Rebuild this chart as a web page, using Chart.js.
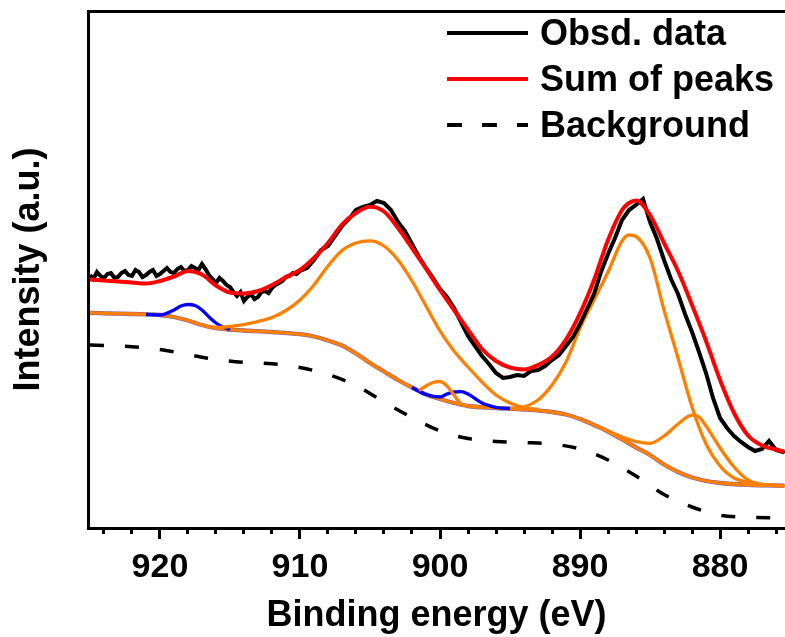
<!DOCTYPE html>
<html>
<head>
<meta charset="utf-8">
<title>XPS fit</title>
<script src="https://cdn.jsdelivr.net/npm/chart.js@4.4.0/dist/chart.umd.min.js"></script>
<style>
  html, body { margin: 0; padding: 0; background: #fff; }
  #wrap { position: relative; width: 785px; height: 637px; }
</style>
</head>
<body>
<div id="wrap"><canvas id="xps"></canvas></div>
<script>
// binding energy (eV) / intensity (a.u.)
const obsEnergy = [
  925, 924.75, 924.5, 924.25, 924, 923.75, 923.5, 923.25,
  923, 922.75, 922.5, 922.25, 922, 921.75, 921.5, 921.25,
  921, 920.75, 920.5, 920.25, 920, 919.75, 919.5, 919.25,
  919, 918.75, 918.5, 918.25, 918, 917.75, 917.5, 917.25,
  917, 916.75, 916.5, 916.25, 916, 915.75, 915.5, 915.25,
  915, 914.75, 914.5, 914.25, 914, 913.75, 913.5, 913.25,
  913, 912.75, 912.5, 912.25, 912, 911.75, 911.5, 911.25,
  911, 910.75, 910.5, 910.25,
  910, 909.5, 909, 908.5, 908, 907.5, 907, 906.5, 906, 905.5,
  905, 904.5, 904, 903.5, 903, 902.5, 902, 901.5, 901, 900.5,
  900, 899.5, 899, 898.5, 898, 897.5, 897, 896.5, 896, 895.5,
  895, 894.5, 894, 893.5, 893, 892.5, 892, 891.5, 891, 890.5,
  890, 889.5, 889, 888.5, 888, 887.5, 887, 886.5, 886, 885.5,
  885, 884.5, 884, 883.5, 883, 882.5, 882, 881.5, 881, 880.5,
  880, 879.5, 879, 878.5, 878, 877.5, 877, 876.5, 876, 875.5,
  875.4
];
const obsIntensity = [
  253, 249, 256, 252, 250, 254, 255, 250,
  251, 255, 257, 253, 252, 258, 256, 251,
  253, 256, 258, 252, 254, 257, 260, 256,
  255, 259, 261, 257, 258, 262, 260, 258,
  264, 259, 253, 249, 245, 250, 247, 243,
  241, 236, 232, 236, 227, 231, 234, 229,
  231, 236, 237, 235, 240, 243, 245, 247,
  251, 252, 255, 254,
  257, 260, 268, 278, 282, 292, 302, 309, 318, 321,
  323, 327, 325, 318, 306, 297, 284, 271, 260, 250,
  239, 231, 220, 206, 192, 182, 172, 164, 155, 150,
  151, 153, 152, 157, 158, 162, 168, 173, 182, 191,
  204, 219, 234, 256, 274, 290, 308, 318, 323, 329,
  306, 289, 268, 249, 234, 214, 196, 176, 155, 130,
  110, 100, 92, 86, 81, 77, 79, 87, 78, 76,
  77
];

const sumEnergy = [925, 924, 923, 922, 921, 920, 919, 918, 917, 916, 915, 914, 913, 912, 911, 910, 909, 908, 907, 906,
  905, 904, 903, 902, 901, 900, 899, 898, 897, 896, 895, 894, 893, 892, 891, 890, 889, 888, 887, 886.5,
  886, 885, 884, 883, 882, 881, 880, 879, 878, 877, 876, 875.4];
const sumIntensity = [248.5, 247.5, 246.5, 245.5, 244.5, 247, 251.5, 257, 253.5, 242.5, 235.5, 234.5, 237, 243, 251, 258, 270, 285, 303.5, 315,
  321.3, 316.5, 300, 280, 259.3, 238, 218, 198.4, 179, 167, 160.5, 158.5, 163, 171.5, 188.5, 214.7, 248, 288, 318, 325,
  327.5, 313, 285, 257, 223, 187, 148, 115, 92.5, 82.5, 78.5, 76.3];

const bgEnergy = [925, 922, 920, 918, 916, 914, 912, 910, 908, 906, 904, 902, 900, 898, 896, 894, 892, 890, 888, 886, 884, 882, 880, 878, 876, 875.4];
const bgIntensity = [183, 181.3, 178.5, 173.5, 168.5, 165.6, 164.3, 160.5, 153.5, 142.5, 126, 110.5, 97, 89.5, 86.5, 85.5, 84, 79, 68, 52, 33.5, 21, 12.8, 10.7, 10.1, 10];

// common baseline that every fitted component sits on
const baseEnergy = [925, 924, 922, 920, 919, 918, 917, 916, 915, 914, 912, 910, 909, 908, 907, 906, 905, 904, 903, 902,
  901, 900, 899, 898, 896, 894, 892, 891, 890, 889, 888, 887, 886, 885, 884, 883, 882, 881, 880, 878, 876, 875.4];
const baseIntensity = [215.2, 214.7, 214, 213, 211, 207.5, 203, 199.8, 198.4, 197.5, 196, 193.8, 191.5, 187.5, 182.5, 174.5, 165, 156.5, 148, 140.5,
  133.5, 129, 125, 122, 120, 118.5, 116, 113.5, 109, 103, 96.5, 88.5, 80.5, 73, 63.5, 56, 50.5, 47, 45, 43.2, 42.5, 42.3];

// components (orange) and satellites (blue)
const p905Energy = [917, 916, 915, 914, 913, 912, 911, 910, 909, 908, 907, 906, 905, 904, 903, 902, 901, 900, 899, 898, 897, 896, 895, 894, 893];
const p905Intensity = [203, 200.5, 201.5, 203.5, 206.5, 210.5, 217.5, 228, 243, 262, 277.5, 285, 287.2, 282, 268, 247, 222, 197, 177, 161, 146, 133, 125, 120.5, 118.5];

const p900Energy = [901.5, 901, 900.5, 900, 899.5, 899, 898.5, 898];
const p900Intensity = [137.5, 142, 145.5, 146.5, 142, 133, 124, 122];

const p886Energy = [895, 894, 893, 892, 891, 890, 889, 888, 887, 886.5, 886, 885, 884, 883, 882, 881, 880, 879, 878, 877, 876, 875.4];
const p886Intensity = [119.5, 121, 128, 143, 166, 200, 228, 256, 287, 293, 291.5, 270, 218, 170, 121, 84, 62, 50, 46, 43.5, 42.5, 42.3];

const p881Energy = [889, 888, 887, 886, 885, 884, 883, 882, 881.5, 881, 880, 879, 878, 877, 876, 875.4];
const p881Intensity = [103, 97, 91, 86.5, 84.7, 92, 104, 112.8, 111, 102, 80, 61, 48, 43.5, 42.5, 42.3];

const sat918Energy = [921, 920, 919, 918.5, 918, 917.5, 917, 916.5, 916, 915.5, 915];
const sat918Intensity = [213.5, 213, 218, 222, 223.5, 222.5, 218, 211, 205, 201, 198.4];

const sat898Energy = [902, 901, 900, 899.5, 899, 898.5, 898, 897.5, 897, 896.5, 896, 895];
const sat898Intensity = [140.5, 133.5, 131, 134, 136, 136.3, 134, 129.5, 125, 122.5, 120.5, 119.5];

const legendLabels = ['Obsd. data', 'Sum of peaks', 'Background'];

const FONT = '"Liberation Sans", Arial, sans-serif';
const ORANGE = '#ff8000';
const BLUE = '#0000ff';

function toPoints(xs, ys) {
  return xs.map((x, i) => ({ x: x, y: ys[i] }));
}

function curve(label, xs, ys, color, width, order, extra) {
  return Object.assign({
    label: label,
    data: toPoints(xs, ys),
    borderColor: color,
    backgroundColor: color,
    borderWidth: width,
    pointRadius: 0,
    fill: false,
    cubicInterpolationMode: 'monotone',
    order: order
  }, extra || {});
}

// legend drawn in the top right corner of the plot
const cornerLegend = {
  id: 'cornerLegend',
  afterDraw(chart) {
    const { ctx, chartArea } = chart;
    ctx.save();
    ctx.font = 'bold 36px ' + FONT;
    ctx.textBaseline = 'alphabetic';
    ctx.textAlign = 'left';
    legendLabels.forEach((name, i) => {
      const ds = chart.data.datasets.find(d => d.label === name);
      const y = chartArea.top + 22 + i * 46;
      ctx.beginPath();
      ctx.setLineDash(ds.borderDash ? [15, 20] : []);
      ctx.strokeStyle = ds.borderColor;
      ctx.lineWidth = 4;
      ctx.moveTo(chartArea.right - 338, y);
      ctx.lineTo(chartArea.right - 257, y);
      ctx.stroke();
      ctx.setLineDash([]);
      ctx.fillStyle = '#000';
      ctx.fillText(name, chartArea.right - 245, y + 12);
    });
    ctx.restore();
  }
};

new Chart(document.getElementById('xps'), {
  type: 'line',
  data: {
    datasets: [
      curve('Sum of peaks', sumEnergy, sumIntensity, '#ff0000', 4, 0),
      curve('Obsd. data', obsEnergy, obsIntensity, '#000000', 4, 1, { cubicInterpolationMode: 'default', tension: 0 }),
      curve('Peak 905', p905Energy, p905Intensity, ORANGE, 3.3, 2),
      curve('Peak 900', p900Energy, p900Intensity, ORANGE, 3.3, 2),
      curve('Peak 886', p886Energy, p886Intensity, ORANGE, 3.3, 2),
      curve('Peak 881', p881Energy, p881Intensity, ORANGE, 3.3, 2),
      curve('Sat 918', sat918Energy, sat918Intensity, BLUE, 3.3, 3),
      curve('Sat 898', sat898Energy, sat898Intensity, BLUE, 3.3, 3),
      curve('Baseline', baseEnergy, baseIntensity, ORANGE, 3.3, 4),
      curve('Baseline edge', baseEnergy, baseIntensity, '#7a5aa8', 4.3, 5),
      curve('Background', bgEnergy, bgIntensity, '#000000', 3.5, 6, { borderDash: [14, 21] })
    ]
  },
  options: {
    responsive: true,
    maintainAspectRatio: false,
    animation: false,
    layout: { padding: { left: 0, right: 0, top: 11, bottom: 0 } },
    plugins: {
      legend: { display: false },
      tooltip: { enabled: false }
    },
    scales: {
      x: {
        type: 'linear',
        position: 'bottom',
        reverse: true,
        min: 875.36,
        max: 925.14,
        afterFit: (scale) => { scale.height = 109; },
        border: { display: true, color: '#000', width: 3 },
        grid: {
          display: true,
          drawOnChartArea: false,
          drawTicks: true,
          tickLength: 11,
          tickWidth: 3,
          tickColor: '#000',
          tickBorderDash: (c) => (c.tick && c.tick.value % 10 === 0) ? [] : [4, 100]
        },
        ticks: {
          stepSize: 2,
          includeBounds: false,
          autoSkip: false,
          maxRotation: 0,
          padding: 8,
          color: '#000',
          font: { family: FONT, size: 34, weight: 'bold' },
          callback: (v) => v % 10 === 0 ? String(v) : ''
        },
        title: {
          display: true,
          text: 'Binding energy (eV)',
          color: '#000',
          font: { family: FONT, size: 36, weight: 'bold', lineHeight: 1.15 },
          padding: { top: 0, bottom: 0 }
        }
      },
      frameTop: {
        type: 'linear',
        position: 'top',
        min: 875.36,
        max: 925.14,
        afterFit: (scale) => { scale.height = 0; },
        border: { display: true, color: '#000', width: 3 },
        grid: { display: false, drawTicks: false },
        ticks: { display: false }
      },
      y: {
        type: 'linear',
        min: 0,
        max: 517,
        afterFit: (scale) => { scale.width = 88; },
        border: { display: true, color: '#000', width: 3 },
        grid: { display: false, drawTicks: false },
        ticks: { display: false },
        title: {
          display: true,
          text: 'Intensity (a.u.)',
          color: '#000',
          font: { family: FONT, size: 36, weight: 'bold', lineHeight: 1.15 },
          padding: { top: 8, bottom: 0 }
        }
      }
    }
  },
  plugins: [cornerLegend]
});
</script>
</body>
</html>
